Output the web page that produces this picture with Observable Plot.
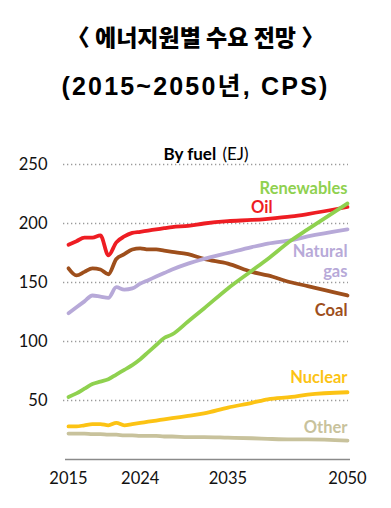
<!DOCTYPE html>
<html>
<head>
<meta charset="utf-8">
<script src="https://cdn.jsdelivr.net/npm/d3@7"></script>
<script src="https://cdn.jsdelivr.net/npm/@observablehq/plot@0.6"></script>
<style>
  html, body { margin: 0; padding: 0; background: #fff; }
  #wrap { width: 391px; height: 508px; position: relative; overflow: hidden; }
  .t { position: absolute; left: 0; width: 391px; text-align: center; color: #000; font-weight: bold; white-space: nowrap; }
  #t1 { top: 21px; font-family: "Noto Sans CJK KR", sans-serif; font-size: 23px; line-height: 30px; font-weight: 900; }
  #t2 { top: 70px; font-family: "Liberation Sans", "Noto Sans CJK KR", sans-serif; font-size: 25px; line-height: 32px; letter-spacing: 2.2px; }
  #chart { position: absolute; left: 0; top: 100px; }
</style>
</head>
<body>
<div id="wrap">
  <div class="t" id="t1">〈 에너지원별 수요 전망 〉</div>
  <div class="t" id="t2">(2015~2050년,  CPS)</div>
  <div id="chart"></div>
</div>
<script>
const years = [2015,2016,2017,2018,2019,2020,2021,2022,2023,2024,2025,2026,2027,2028,2030,2032,2035,2038,2040,2043,2045,2050];
const oil        = [182,185,188,188,190,173,184,189,192,193,194,195,196,197,198,200,202,203,204,206,208,214];
const coal       = [162,156,159,162,161,157,170,174,178,179,178,178,177,176,174,170,166,159,156,150,147,139];
const gas        = [124,129,134,139,138,137,146,144,145,149,152,155,158,161,166,170,175,180,183,186,189,195];
const renewables = [53,56,60,64,66,68,72,76,80,85,91,97,103,106,117,128,145,160,170,186,195,217];
const nuclear    = [28,28,29,30,30,29,31,29,30,31,32,33,34,35,37,39,44,48,51,53,55,57];
const other      = [22,22,22,21.5,21.5,21,21,20.5,20.5,20,20,20,19.5,19.5,19,19,18.5,18,17.5,17,17,16];

const seriesNames  = ["Other","Nuclear","Coal","Natural gas","Oil","Renewables"];
const seriesValues = [other, nuclear, coal, gas, oil, renewables];
const seriesColors = ["#c8c29c","#fcc314","#9e4f1c","#b7a9d8","#ee1d23","#8fd14f"];

const yTicks = [50,100,150,200,250];
const xTicks = [2015,2024,2035,2050];

// label texts with anchor positions (data units)
const labelText  = ["Renewables","Oil","Natural","gas","Coal","Nuclear","Other"];
const labelSeries= ["Renewables","Oil","Natural gas","Natural gas","Coal","Nuclear","Other"];
const labelX     = [2050,2040.6,2050,2050,2050,2050,2050];
const labelY     = [229.5,213.5,176,159.5,126.5,69.5,27];

const rows = [];
seriesNames.forEach((s, i) => years.forEach((yr, j) => rows.push({series: s, year: yr, value: seriesValues[i][j]})));
const labels = labelText.map((t, i) => ({text: t, series: labelSeries[i], x: labelX[i], y: labelY[i]}));

const font = "Lato, 'Open Sans', sans-serif";
const chart = Plot.plot({
  width: 391,
  height: 408,
  marginLeft: 68,
  marginRight: 44,
  marginTop: 64,
  marginBottom: 49,
  style: {fontFamily: font, fontSize: "16.5px", color: "#111", background: "transparent"},
  x: {domain: [2015, 2050], ticks: xTicks, tickFormat: d => String(d), tickSize: 0, tickPadding: 13, label: null},
  y: {domain: [0, 250], ticks: yTicks, tickSize: 0, tickPadding: 21, label: null},
  color: {domain: seriesNames, range: seriesColors},
  marks: [
    Plot.ruleY(yTicks, {stroke: "#9a9a9a", strokeWidth: 1.3, strokeDasharray: "1.3,2.7", insetLeft: -5, insetRight: -1}),
    Plot.ruleY([0], {stroke: "#8a8a8a", strokeWidth: 1.3, insetLeft: -3, insetRight: -3}),
    Plot.line(rows, {x: "year", y: "value", z: "series", stroke: "series", strokeWidth: 3.8, curve: "monotone-x", strokeLinejoin: "round", strokeLinecap: "round"}),
    Plot.text(labels, {x: "x", y: "y", text: "text", fill: d => d.series, textAnchor: "end", fontWeight: "bold", fontSize: 16.5, lineHeight: 1}),
    Plot.text(["By fuel"], {frameAnchor: "top-left", dx: 95, dy: -17, text: d => d, textAnchor: "start", fontWeight: "bold", fontSize: 17, fill: "#000"}),
    Plot.text(["(EJ)"], {frameAnchor: "top-left", dx: 154, dy: -17, text: d => d, textAnchor: "start", fontSize: 17, fill: "#000"})
  ]
});
document.getElementById("chart").appendChild(chart);
</script>
</body>
</html>
